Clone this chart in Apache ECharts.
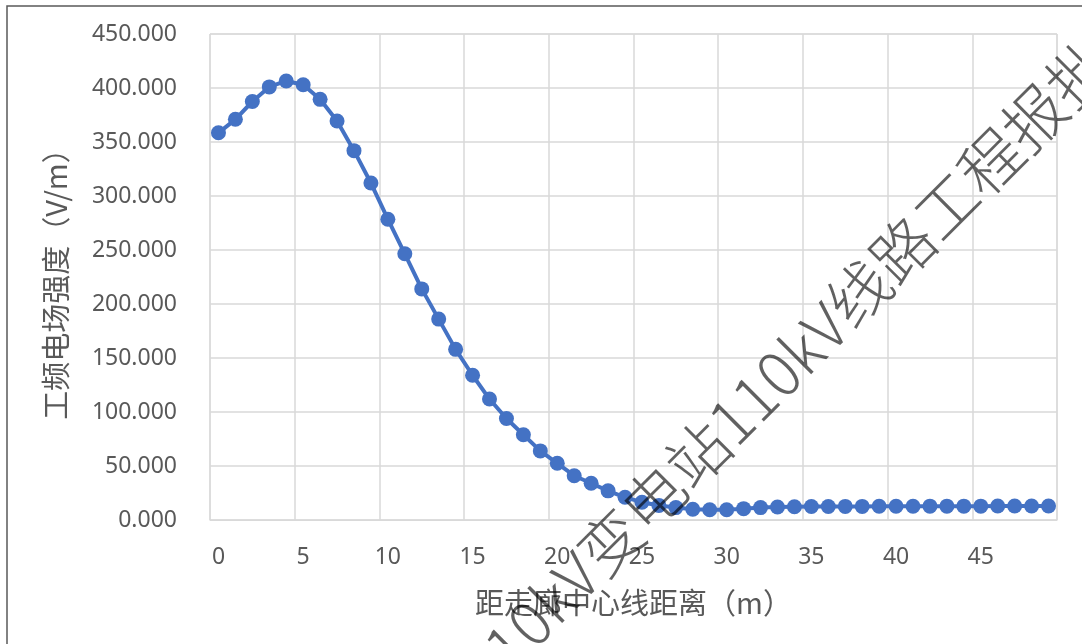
<!DOCTYPE html>
<html>
<head>
<meta charset="utf-8">
<script src="https://cdn.jsdelivr.net/npm/echarts@6/dist/echarts.min.js"></script>
<style>
html,body{margin:0;padding:0;background:#fff;}
#chart{width:1082px;height:644px;}
</style>
</head>
<body>
<div id="chart"></div>
<script>
const categories = ['0','1','2','3','4','5','6','7','8','9','10','11','12','13','14','15','16','17','18','19','20','21','22','23','24','25','26','27','28','29','30','31','32','33','34','35','36','37','38','39','40','41','42','43','44','45','46','47','48','49'];
const fieldValues = [358.5, 371, 387.5, 401, 406.5, 403, 389.5, 369.5, 342, 312, 278.5, 246.5, 214, 186, 158, 134, 112, 94, 79, 64, 52.5, 41, 34, 27, 21, 16.5, 13.5, 11.5, 10, 9.5, 9.5, 10.5, 11.5, 12, 12.3, 12.5, 12.5, 12.6, 12.6, 12.7, 12.7, 12.7, 12.8, 12.8, 12.8, 12.8, 12.9, 12.9, 12.9, 12.9];
const xAxisTitle = '距走廊中心线距离（m）';
const yAxisTitle = '工频电场强度（V/m）';
const watermarkText = '110kV变电站110kV线路工程报批';

const chart = echarts.init(document.getElementById('chart'), null, {renderer:'canvas'});
const labelFont = '"Noto Sans", "Noto Sans CJK SC", sans-serif';
const cjkFont = '"Noto Sans CJK SC", "Noto Sans", sans-serif';
chart.setOption({
  animation:false,
  backgroundColor:'#ffffff',
  grid:{left:210, right:25, top:34, bottom:124, show:true, borderColor:'#d9d9d9', borderWidth:1},
  xAxis:{
    type:'category',
    data:categories,
    boundaryGap:true,
    name:xAxisTitle,
    nameLocation:'middle',
    nameGap:68,
    nameTextStyle:{fontFamily:cjkFont, fontSize:29, color:'#595959'},
    axisLine:{show:true, lineStyle:{color:'#d9d9d9', width:1}},
    axisTick:{show:false, interval:4},
    axisLabel:{interval:4, margin:26, fontFamily:labelFont, fontSize:23, color:'#595959'},
    splitLine:{show:true, interval:4, lineStyle:{color:'#d9d9d9', width:1.5}}
  },
  yAxis:{
    type:'value',
    min:0, max:450, interval:50,
    name:yAxisTitle,
    nameLocation:'middle',
    nameGap:140,
    nameTextStyle:{fontFamily:cjkFont, fontSize:29, color:'#595959'},
    axisLine:{show:false},
    axisTick:{show:false},
    axisLabel:{margin:33, fontFamily:labelFont, fontSize:23, color:'#595959', formatter:v=>v.toFixed(3)},
    splitLine:{show:true, lineStyle:{color:'#d9d9d9', width:1.5}}
  },
  series:[{
    type:'line',
    data:fieldValues,
    symbol:'circle',
    symbolSize:15,
    showSymbol:true,
    showAllSymbol:true,
    lineStyle:{color:'#4472c4', width:4},
    itemStyle:{color:'#4472c4'},
    z:3
  }],
  graphic:[
    {type:'rect', shape:{x:7, y:6, width:1200, height:1000}, style:{fill:null, stroke:'#5a5a5a', lineWidth:1.5}, z:10, silent:true},
    {type:'text', x:1100, y:52, rotation:Math.PI/4, z:20, silent:true,
     style:{text:watermarkText, fontFamily:cjkFont, fontSize:62, fontWeight:300, fill:'rgba(0,0,0,0.62)', align:'right', verticalAlign:'middle'}}
  ]
});
</script>
</body>
</html>
